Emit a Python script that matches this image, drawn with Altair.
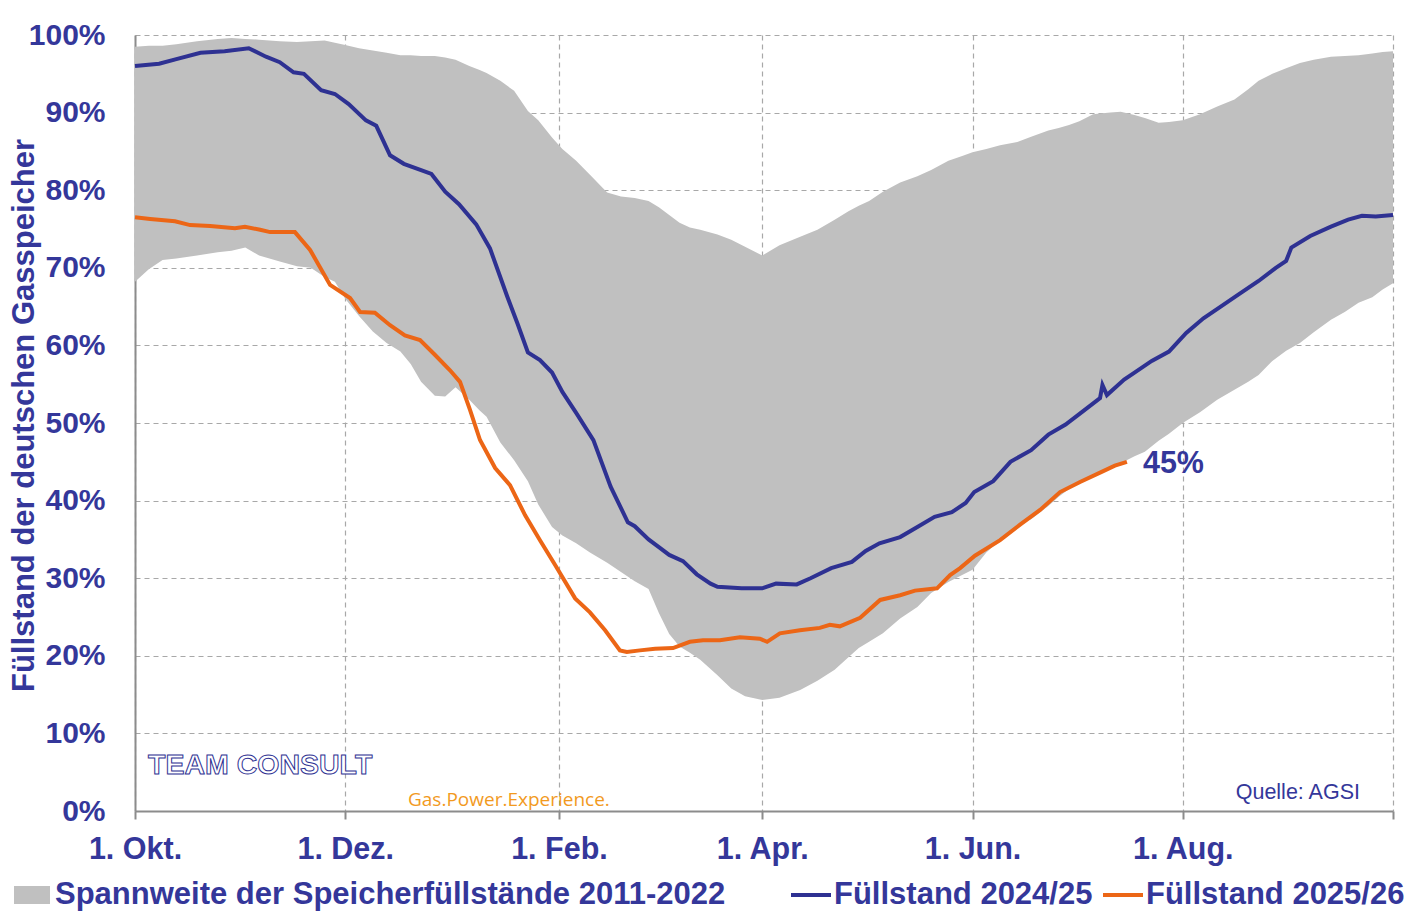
import altair as alt
import pandas as pd

# ---- axis ticks (day of gas year, starting 1 Oct) ----
tick_days = [0, 61, 123, 182, 243, 304, 365]
tick_labels = ["1. Okt.", "1. Dez.", "1. Feb.", "1. Apr.", "1. Jun.", "1. Aug.", ""]
y_ticks = [0, 10, 20, 30, 40, 50, 60, 70, 80, 90, 100]

# ---- range 2011-2022 (min / max) ----
band_day = [0, 4, 8, 12, 18, 24, 28, 32, 36, 42, 47, 51, 55, 58, 61, 65, 69, 73, 77, 80,
            83, 87, 90, 93, 97, 100, 102, 106, 110, 114, 117, 121, 124, 128, 132, 137, 141,
            145, 149, 152, 155, 158, 161, 164, 169, 173, 177, 182, 187, 193, 198, 203, 207,
            210, 213, 217, 222, 227, 231, 236, 240, 243, 247, 251, 256, 260, 265, 268, 271,
            274, 278, 280, 283, 286, 290, 293, 297, 300, 304, 309, 314, 319, 323, 326, 330,
            334, 338, 342, 347, 351, 355, 359, 362, 365]
band_max = [98.5, 98.6, 98.6, 98.8, 99.2, 99.5, 99.6, 99.5, 99.4, 99.2, 99.1, 99.2, 99.3, 99.0,
            98.7, 98.3, 98.0, 97.7, 97.4, 97.4, 97.3, 97.3, 97.1, 96.8, 96.0, 95.5, 95.1, 94.1,
            92.8, 90.2, 89.0, 86.8, 85.3, 83.8, 82.0, 79.7, 79.2, 79.0, 78.6, 77.8, 76.8, 75.8,
            75.2, 74.9, 74.3, 73.6, 72.7, 71.6, 72.9, 74.0, 74.9, 76.2, 77.3, 78.0, 78.6, 79.8,
            81.0, 81.8, 82.6, 83.8, 84.4, 84.9, 85.3, 85.8, 86.2, 86.9, 87.7, 88.0, 88.4, 88.9,
            89.8, 89.9, 90.0, 90.1, 89.7, 89.3, 88.7, 88.8, 89.0, 89.8, 90.8, 91.7, 93.0, 94.1,
            95.0, 95.7, 96.4, 96.8, 97.2, 97.3, 97.4, 97.6, 97.8, 97.9]
band_min = [68.2, 69.8, 71.0, 71.2, 71.6, 72.0, 72.2, 72.6, 71.6, 70.8, 70.2, 70.0, 68.8, 68.2,
            66.0, 63.8, 61.8, 60.3, 59.2, 57.6, 55.3, 53.5, 53.4, 54.6, 53.0, 51.6, 50.8, 47.5,
            45.2, 42.5, 39.5, 36.6, 35.5, 34.5, 33.3, 32.0, 30.8, 29.6, 28.6, 25.5, 22.8, 21.2,
            20.4, 19.5, 17.5, 15.8, 14.8, 14.3, 14.6, 15.6, 16.8, 18.2, 19.8, 21.0, 21.8, 22.9,
            24.8, 26.3, 28.1, 29.5, 30.4, 31.1, 33.3, 34.9, 36.9, 37.6, 39.3, 40.5, 41.5, 42.3,
            43.2, 43.6, 44.2, 44.8, 45.7, 46.3, 47.7, 48.6, 50.0, 51.4, 53.0, 54.3, 55.3, 56.2,
            58.0, 59.3, 60.3, 61.7, 63.3, 64.3, 65.5, 66.2, 67.2, 68.0]

# ---- Füllstand 2024/25 ----
blue_day = [0, 7, 12, 19, 26, 33, 38, 42, 46, 49, 54, 58, 62, 67, 70, 74, 78, 83, 86, 90, 94,
            99, 103, 108, 111, 114, 117.5, 121, 124, 128, 133, 138, 143, 145, 149, 152, 155,
            159, 163, 167, 169, 176, 182, 186, 192, 196, 202, 208, 212, 216, 222, 227, 232,
            237, 241, 243.5, 249, 254, 260, 265, 270, 275, 280, 280.7, 282, 287, 290, 295,
            300, 305, 310, 315, 320, 326, 331, 334, 335.5, 341, 347, 352, 356, 360, 365]
blue_val = [96.0, 96.3, 96.9, 97.7, 97.9, 98.3, 97.2, 96.5, 95.2, 95.0, 92.9, 92.4, 91.1, 89.0,
            88.3, 84.5, 83.4, 82.6, 82.1, 79.8, 78.2, 75.6, 72.5, 66.3, 62.8, 59.1, 58.1, 56.5,
            54.0, 51.3, 47.8, 41.8, 37.2, 36.7, 35.0, 34.0, 33.0, 32.2, 30.5, 29.3, 28.9, 28.7,
            28.7, 29.3, 29.2, 30.0, 31.3, 32.1, 33.5, 34.5, 35.3, 36.6, 37.9, 38.5, 39.7, 41.1,
            42.5, 45.0, 46.5, 48.5, 49.8, 51.5, 53.2, 54.9, 53.6, 55.6, 56.5, 58.0, 59.2, 61.6,
            63.5, 65.0, 66.5, 68.3, 70.0, 70.9, 72.6, 74.1, 75.3, 76.2, 76.7, 76.6, 76.8]

# ---- Füllstand 2025/26 ----
orange_day = [0, 4.4, 11.6, 16, 21.8, 29, 31.9, 36.3, 39.2, 46.4, 50.8, 56.6, 62.4, 65.3, 69.6,
              74, 78.3, 82.7, 87, 91.4, 94.3, 97.2, 100.1, 104.5, 108.8, 113.2, 117.5, 121.9,
              127.7, 132, 136.4, 140.7, 142.7, 146.5, 150.9, 156.1, 161, 164.8, 169.7, 175.5,
              181.3, 183.4, 187.1, 192.9, 198.7, 201.6, 204.5, 210.4, 216.2, 222, 226.3, 232.7,
              236.5, 239.4, 243.7, 251, 256.8, 262.6, 268.4, 274.2, 280, 284.3, 287.8]
orange_val = [76.5, 76.3, 76.0, 75.5, 75.4, 75.1, 75.3, 74.9, 74.6, 74.6, 72.3, 67.8, 66.1, 64.3,
              64.2, 62.6, 61.3, 60.7, 58.8, 56.8, 55.3, 51.7, 47.8, 44.2, 42.0, 38.1, 34.9, 31.7,
              27.4, 25.6, 23.3, 20.7, 20.5, 20.7, 20.9, 21.0, 21.8, 22.0, 22.0, 22.4, 22.2, 21.8,
              22.9, 23.3, 23.6, 24.0, 23.8, 24.9, 27.2, 27.8, 28.4, 28.7, 30.4, 31.3, 32.9, 34.9,
              36.9, 38.8, 41.1, 42.4, 43.6, 44.5, 45.0]

band_label = "Spannweite der Speicherfüllstände 2011-2022"
series_labels = ["Füllstand 2024/25", "Füllstand 2025/26"]
end_label = "45%"
source_text = "Quelle: AGSI"
logo_text = "TEAM CONSULT"
logo_claim = "Gas.Power.Experience."
y_title = "Füllstand der deutschen Gasspeicher"

TXT = "#34379A"
BLUE = "#2E3192"
ORANGE = "#EC6616"
GREY = "#C0C0C0"
FONT = "Liberation Sans"

band_df = pd.DataFrame({"day": band_day, "lo": band_min, "hi": band_max, "label": band_label})
lines_df = pd.concat([
    pd.DataFrame({"day": blue_day, "val": blue_val, "series": series_labels[0], "order": range(len(blue_day))}),
    pd.DataFrame({"day": orange_day, "val": orange_val, "series": series_labels[1], "order": range(len(orange_day))}),
])
end_df = pd.DataFrame({"day": [orange_day[-1]], "val": [orange_val[-1]], "text": [end_label]})

label_expr = "[" + ",".join("'" + l + "'" for l in tick_labels) + "][indexof([" + ",".join(str(d) for d in tick_days) + "], datum.value)]"

x_enc = alt.X("day:Q", scale=alt.Scale(domain=[0, 365], nice=False, zero=False),
              axis=alt.Axis(values=tick_days, labelExpr=label_expr, title=None, grid=True,
                            tickSize=8, tickWidth=2, tickColor="#8C8C8C", labelPadding=15,
                            labelFlush=False, labelOverlap=False, labelFontSize=30.5))
y_scale = alt.Scale(domain=[0, 100], nice=False, zero=True)

area = alt.Chart(band_df).mark_area(opacity=1, interpolate="linear").encode(
    x=x_enc,
    y=alt.Y("lo:Q", scale=y_scale,
            axis=alt.Axis(values=y_ticks, labelExpr="datum.value + '%'", title=y_title,
                          ticks=False, labelPadding=30, labelFlush=False, labelFontSize=30,
                          titleAngle=270, titleX=-111, titleY=380, titleAlign="center",
                          titleBaseline="middle", titleFontSize=31)),
    y2="hi:Q",
    fill=alt.Fill("label:N", scale=alt.Scale(range=[GREY]),
                  legend=alt.Legend(orient="none", legendX=-121, legendY=842, title=None,
                                    symbolType="M-1,-0.5L1,-0.5L1,0.5L-1,0.5Z", symbolSize=1296,
                                    symbolStrokeWidth=0, symbolOpacity=1, labelOffset=5,
                                    padding=0)),
)

lines = alt.Chart(lines_df).mark_line(strokeWidth=4, interpolate="linear").encode(
    x="day:Q",
    y=alt.Y("val:Q", scale=y_scale),
    order="order:Q",
    stroke=alt.Stroke("series:N", scale=alt.Scale(domain=series_labels, range=[BLUE, ORANGE]),
                      legend=alt.Legend(orient="none", legendX=654, legendY=838, title=None,
                                        direction="horizontal", symbolType="stroke",
                                        symbolSize=1600, symbolStrokeWidth=4, labelOffset=1,
                                        columnPadding=2, padding=0)),
)

end_text = alt.Chart(end_df).mark_text(align="left", baseline="middle", dx=16, dy=2,
                                        font=FONT, fontSize=30.5, fontWeight="bold", color=TXT).encode(
    x="day:Q", y=alt.Y("val:Q", scale=y_scale), text="text:N")

src = alt.Chart(pd.DataFrame({"t": [source_text]})).mark_text(
    align="right", baseline="middle", font=FONT, fontSize=21.5, color=TXT).encode(
    x=alt.value(1225), y=alt.value(758), text="t:N")

logo = alt.Chart(pd.DataFrame({"t": [logo_text]})).mark_text(
    align="left", baseline="middle", font=FONT, fontSize=28.5, fontWeight="bold",
    fill="white", stroke=BLUE, strokeWidth=1.0).encode(
    x=alt.value(13), y=alt.value(730), text="t:N")

claim = alt.Chart(pd.DataFrame({"t": [logo_claim]})).mark_text(
    align="left", baseline="middle", font="Open Sans", fontSize=19, color="#F29A1E").encode(
    x=alt.value(273), y=alt.value(765), text="t:N")

chart = alt.layer(area, lines, end_text, src, logo, claim).properties(
    width=1258, height=776,
    padding={"left": 127, "top": 27, "right": 12, "bottom": 100},
    autosize=alt.AutoSizeParams(type="none"),
).configure_view(stroke=None).configure_axis(
    gridDash=[5, 4], gridColor="#A8A8A8", gridWidth=1.2,
    domainColor="#8C8C8C", domainWidth=2,
    labelFont=FONT, labelFontWeight="bold", labelColor=TXT,
    titleFont=FONT, titleFontWeight="bold", titleColor=TXT,
).configure_legend(
    labelFont=FONT, labelFontSize=31, labelFontWeight="bold", labelColor=TXT, labelLimit=1000,
)

chart.save("out.html", embed_options={"renderer": "svg", "actions": False})
